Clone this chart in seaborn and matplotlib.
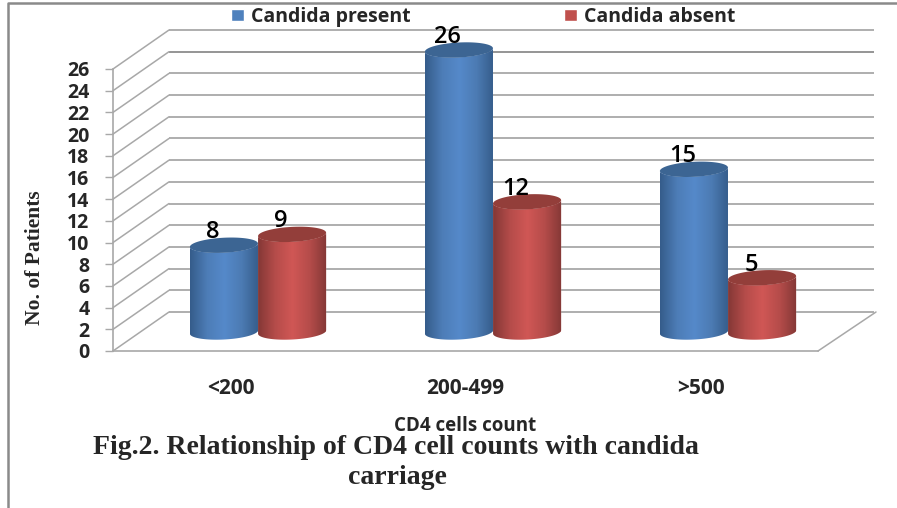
import numpy as np
import pandas as pd
import matplotlib
matplotlib.use("Agg")
import matplotlib.pyplot as plt
import seaborn as sns
from matplotlib.colors import LinearSegmentedColormap
from matplotlib.lines import Line2D
from matplotlib.patches import Polygon
from matplotlib.path import Path
from matplotlib.transforms import Affine2D, IdentityTransform

# chart data
categories = ["<200", "200-499", ">500"]
candida_present = [8, 26, 15]
candida_absent = [9, 12, 5]
series_names = ["Candida present", "Candida absent"]
y_ticks = list(range(0, 27, 2))

# styles
SANS = "Open Sans"
SERIF = "Liberation Serif"
BLUE_STOPS = ["#355c8a", "#4d7db7", "#5589ca", "#4c7bb3", "#355c8a"]
RED_STOPS = ["#843836", "#b54c4a", "#d05755", "#b54c4a", "#843836"]
TOP_COLORS = ["#3c6593", "#933e3a"]
GRID = "#a8a8a8"

W, H = 897, 508
sns.set_style("white")
plt.rcParams["font.family"] = [SANS, "DejaVu Sans"]

fig = plt.figure(figsize=(W / 100, H / 100), dpi=100, facecolor="white")
ax = fig.add_axes([113 / W, 1 - 351 / H, 705 / W, 282 / H])

df = pd.DataFrame({
    "cd4": categories * 2,
    "patients": candida_present + candida_absent,
    "series": [series_names[0]] * 3 + [series_names[1]] * 3,
})
sns.barplot(data=df, x="cd4", y="patients", hue="series", order=categories,
            hue_order=series_names, palette=["#4f81bd", "#c0504d"],
            width=0.58, gap=0, saturation=1, ax=ax, zorder=3)
ax.set_xlim(-0.5, 2.5)
ax.set_ylim(0, 26)
ax.set_yticks(y_ticks)

# fake 3D: back wall and bars are the data axes shifted by a fixed pixel offset
back_tf = ax.transData + Affine2D().translate(56, 39)
bar_tf = ax.transData + Affine2D().translate(27.5, 19)

for tick in y_ticks:
    x0, y0 = ax.transData.transform((-0.5, tick))
    color = "#8c8c8c" if tick == 24 else GRID
    fig.add_artist(Line2D([x0, x0 + 56], [y0, y0 + 39], color=GRID, lw=1.1,
                          transform=IdentityTransform(), zorder=1))
    ax.plot([-0.5, 2.5], [tick, tick], color=color, lw=1.3, transform=back_tf,
            clip_on=False, zorder=1, solid_capstyle="butt")

# right edge of the floor
x0, y0 = ax.transData.transform((2.5, 0))
ax.add_artist(Line2D([x0, x0 + 58], [y0, y0 + 39], color=GRID, lw=1.1,
                     transform=IdentityTransform(), clip_on=False, zorder=1))
# floor front edge is the bottom spine, wall edge the left spine
for side in ["top", "right"]:
    ax.spines[side].set_visible(False)
for side in ["left", "bottom"]:
    ax.spines[side].set_color(GRID)
    ax.spines[side].set_linewidth(1.2)
ax.patch.set_alpha(0)


def arc(cx, cy, a, b, tilt, t):
    # points of a tilted ellipse, pixels
    px = cx + a * np.cos(t) * np.cos(tilt) - b * np.sin(t) * np.sin(tilt)
    py = cy + a * np.cos(t) * np.sin(tilt) + b * np.sin(t) * np.cos(tilt)
    return np.column_stack([px, py])


TILT = np.deg2rad(3)
HALF_H = 7.5
grad = np.linspace(0, 1, 256)[None, :]

for s, container in enumerate(ax.containers):
    cmap = LinearSegmentedColormap.from_list(
        "cyl", BLUE_STOPS if s == 0 else RED_STOPS)
    z = 3 + s
    for patch, val in zip(container.patches, container.datavalues):
        x_left = patch.get_x()
        x_right = x_left + patch.get_width()
        (px0, py0), (px1, py1) = bar_tf.transform(
            [(x_left, 0), (x_right, val)])
        cx, a = (px0 + px1) / 2, (px1 - px0) / 2

        lower = np.linspace(np.pi, 2 * np.pi, 60)
        body = np.vstack([arc(cx, py0, a, HALF_H, TILT, lower),
                          arc(cx, py1, a, HALF_H, TILT, lower[::-1])])
        clip = Path(np.vstack([body, body[0]]), closed=True)

        patch.set_transform(bar_tf)
        patch.set_zorder(z)
        patch.set_clip_box(fig.bbox)
        patch.set_clip_path(clip, IdentityTransform())

        im = ax.imshow(grad, cmap=cmap, aspect="auto", zorder=z,
                       extent=[px0, px1, py0 - HALF_H - 3, py1 + HALF_H + 3],
                       transform=IdentityTransform())
        im.set_clip_box(fig.bbox)
        im.set_clip_path(clip, IdentityTransform())

        top = arc(cx, py1, a, HALF_H, TILT, np.linspace(0, 2 * np.pi, 90))
        ax.add_patch(Polygon(top, closed=True, fc=TOP_COLORS[s], ec="none",
                             transform=IdentityTransform(), clip_on=False,
                             zorder=z))

        ax.annotate(f"{val:g}", xy=((x_left + x_right) / 2, val), xycoords=bar_tf,
                    xytext=(-11, 13), textcoords="offset pixels", ha="center",
                    va="center", fontsize=17, fontweight="semibold",
                    color="black", zorder=8)

ax.set_xlim(-0.5, 2.5)
ax.set_ylim(0, 26)

ax.tick_params(axis="y", left=True, length=6, width=1, color=GRID, pad=11,
               labelsize=14)
ax.tick_params(axis="x", bottom=False, length=0, pad=19.5, labelsize=15)
for lab in ax.get_yticklabels() + ax.get_xticklabels():
    lab.set_fontweight("bold")

ax.set_xlabel("")
ax.set_ylabel("")
fig.text(465 / W, 1 - 426 / H, "CD4 cells count", ha="center", va="center",
         fontsize=13.5, fontweight="bold")
fig.text(35 / W, 1 - 258 / H, "No. of Patients", rotation=90, ha="center",
         va="center", family=SERIF, fontweight="bold", fontsize=15.5)
fig.text(396 / W, 1 - 447 / H, "Fig.2. Relationship of CD4 cell counts with candida",
         ha="center", va="center", family=SERIF, fontweight="bold", fontsize=20)
fig.text(397 / W, 1 - 477 / H, "carriage", ha="center", va="center", family=SERIF,
         fontweight="bold", fontsize=20)

handles, labels = ax.get_legend_handles_labels()
if ax.get_legend():
    ax.get_legend().remove()
fig.legend(handles, labels, loc="center left", bbox_to_anchor=(231 / W, 1 - 17 / H),
           ncol=2, frameon=False, handlelength=0.68, handleheight=0.55,
           handletextpad=0.35, columnspacing=7.9, borderpad=0, borderaxespad=0,
           prop={"family": SANS, "size": 14, "weight": "bold"})

# scan border of the original page
fig.add_artist(Line2D([8 / W, 8 / W, 1], [0, 1 - 3 / H, 1 - 3 / H], color="#8a8a8a",
                      lw=1.8, transform=fig.transFigure))

fig.savefig("out.png", dpi=100)
